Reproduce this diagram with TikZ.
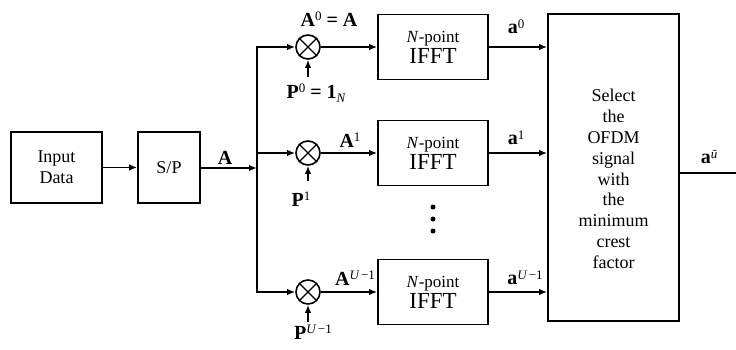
\documentclass[tikz,border=0pt]{standalone}
\usepackage{fontspec}
\setmainfont{Liberation Serif}
\usetikzlibrary{arrows.meta}
\newcommand\supr[1]{\raisebox{5.5pt}{\fontsize{13}{13}\selectfont\mdseries #1}}
\newcommand\subr[1]{\raisebox{-4pt}{\fontsize{13}{13}\selectfont\mdseries #1}}
\begin{document}
\begin{tikzpicture}[x=1pt,y=-1pt,
  line width=1.6pt,
  box/.style={draw, line width=1.7pt, inner sep=0pt, align=center},
  txt/.style={font=\fontsize{18}{21}\selectfont, align=center, inner sep=0pt},
  lbl/.style={font=\fontsize{20}{22}\selectfont\bfseries, inner sep=0pt},
  arr/.style={-{Latex[length=8pt,width=6.5pt]}},
  darr/.style={{Latex[length=8pt,width=6.5pt]}-{Latex[length=8pt,width=6.5pt]}},
  mult/.style={circle, draw, minimum size=24pt, inner sep=0pt},
  fft/.style={box, minimum width=110pt, minimum height=65pt, font=\fontsize{20}{21}\selectfont},
  dot/.style={circle, fill, inner sep=0pt, minimum size=5pt}
]
\useasboundingbox (0,0) rectangle (736,349);

% input blocks
\node[box, txt, minimum width=91pt, minimum height=71pt] (inp) at (56.5,167.5) {Input\\Data};
\node[box, txt, minimum width=62pt, minimum height=71pt] (sp) at (169,167.5) {S/P};
\draw[arr] (inp) -- (sp);

% bus
\coordinate (bA) at (257,168);
\coordinate (bt) at (257,47);
\coordinate (bm) at (257,153);
\coordinate (bb) at (257,292);
\draw[arr] (sp.east |- bA) -- (bA);
\node[lbl] (Alab) at (225,158) {A};

% multipliers
\node[mult] (m0) at (308,47) {};
\node[mult] (m1) at (308,153) {};
\node[mult] (m2) at (308,292) {};
\foreach \m in {m0,m1,m2}{
  \draw[line width=1.2pt] (\m.45) -- (\m.225) (\m.135) -- (\m.315);
}
\draw[darr] (m0) -- (bt) -- (bb) -- (m2);
\draw[arr] (bm) -- (m1);

% phase inputs
\coordinate (p0) at (308,77);
\coordinate (p1) at (308,181);
\coordinate (p2) at (308,322);
\draw[arr] (p0) -- (m0);
\draw[arr] (p1) -- (m1);
\draw[arr] (p2) -- (m2);

% IFFT blocks
\node[fft] (f0) at (433,47) {{\fontsize{17}{17}\selectfont\textit{N}-point}\\{\fontsize{23}{23}\selectfont IFFT}};
\node[fft] (f1) at (433,153) {{\fontsize{17}{17}\selectfont\textit{N}-point}\\{\fontsize{23}{23}\selectfont IFFT}};
\node[fft] (f2) at (433,292) {{\fontsize{17}{17}\selectfont\textit{N}-point}\\{\fontsize{23}{23}\selectfont IFFT}};
\draw[arr] (m0) -- (f0);
\draw[arr] (m1) -- (f1);
\draw[arr] (m2) -- (f2);

% dots
\node[dot] (d1) at (433,207) {};
\node[dot] (d2) at (433,219) {};
\node[dot] (d3) at (433,231) {};

% selection block
\node[box, minimum width=131pt, minimum height=307pt] (sel) at (613.5,167.5) {};
\node[font=\fontsize{18}{20.8}\selectfont, align=center, inner sep=0pt] (seltxt) at (613.5,179)
  {Select\\the\\OFDM\\signal\\with\\the\\minimum\\crest\\factor};
\draw[arr] (f0) -- (f0 -| sel.west);
\draw[arr] (f1) -- (f1 -| sel.west);
\draw[arr] (f2) -- (f2 -| sel.west);

% output
\coordinate (out) at (736,173);
\draw (sel.east |- out) -- (out);

% labels
\node[lbl] (A0) at (329,19) {A\supr{0} = A};
\node[lbl] (P0) at (316,93) {P\supr{0} = 1\subr{\itshape N}};
\node[lbl] (A1) at (350,140) {A\supr{1}};
\node[lbl] (P1) at (301,199) {P\supr{1}};
\node[lbl] (AU) at (355,278) {A\supr{\itshape U\upshape\,−1}};
\node[lbl] (PU) at (313,332) {P\supr{\itshape U\upshape\,−1}};
\node[lbl] (a0) at (516,27) {a\supr{0}};
\node[lbl] (a1) at (516,138) {a\supr{1}};
\node[lbl] (aU) at (525,278) {a\supr{\itshape U\upshape\,−1}};
\node[lbl] (au) at (709,157) {a\supr{\itshape ū}};
\end{tikzpicture}
\end{document}
